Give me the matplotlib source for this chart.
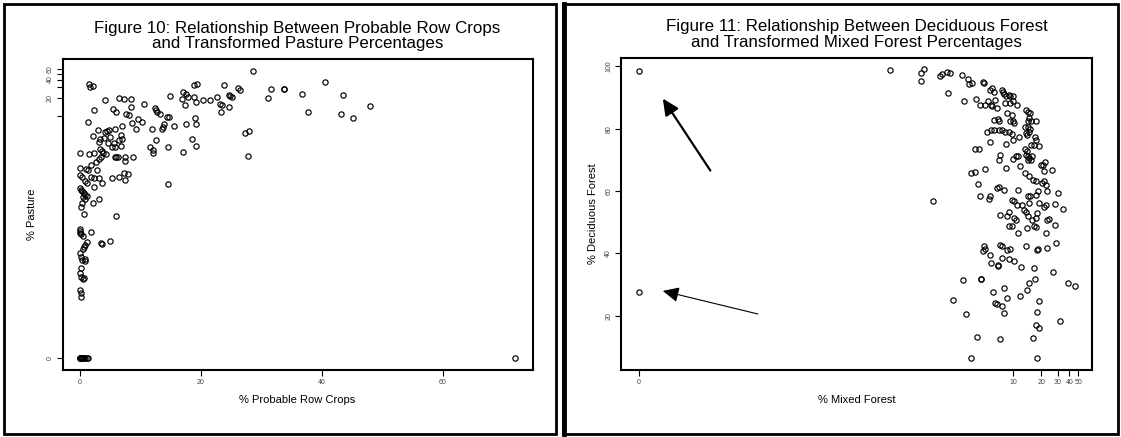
import numpy as np
import matplotlib.pyplot as plt
from matplotlib.patches import Rectangle, FancyArrowPatch
from matplotlib.lines import Line2D

plt.rcParams['font.family'] = ['Liberation Sans', 'DejaVu Sans']

# Figure 10: percent probable row crops against percent pasture
row_crops = [
    1.54, 1.71, 2.21, 18.84, 19.34, 17.02, 17.57, 16.91, 17.90, 18.95,
    17.46, 19.12, 20.34, 14.92, 6.41, 7.24, 8.45, 4.09, 8.40, 10.66,
    12.38, 12.54, 12.82, 13.26, 2.37, 5.47, 5.96, 7.68, 8.12, 9.67,
    10.28, 1.27, 8.56, 7.02, 9.28, 11.93, 13.59, 13.76, 13.98, 14.48,
    14.81, 15.58, 17.57, 19.07, 19.12, 4.47, 4.86, 5.74, 2.98, 6.74,
    2.09, 3.37, 3.92, 5.02, 3.20, 6.41, 6.96, 4.58, 5.63, 5.30,
    5.85, 6.79, 12.54, 11.66, 12.10, 12.10, 14.59, 18.46, 19.18, 17.08,
    3.37, 3.64, 3.75, 3.48, 0.05, 1.43, 2.26, 4.31, 5.74, 5.96,
    6.24, 7.51, 8.73, 7.40, 3.15, 2.65, 1.87, 0.00, 1.04, 1.27,
    2.81, 0.00, 0.33, 1.76, 2.37, 3.09, 5.36, 6.41, 7.35, 7.90,
    7.51, 0.77, 1.21, 3.64, 2.37, 14.53, 0.00, 0.11, 0.38, 0.66,
    0.88, 1.16, 0.55, 0.77, 3.09, 2.15, 0.33, 0.16, 4.10,
    0.66, 5.96, 0.00, 0.00, 0.05, 0.22, 0.44, 1.82, 4.92, 3.48,
    3.64, 1.16, 0.88, 0.71, 0.44, 0.05, 0.22, 0.77, 0.33, 0.77,
    0.16, 0.05, 0.22, 0.44, 0.66, 0.00, 0.10, 0.16,
    28.67, 40.46, 23.82, 26.18, 26.48, 31.64, 33.71, 33.83, 36.73, 43.48,
    24.70, 24.82, 25.18, 22.69, 21.45, 31.10, 23.16, 23.46, 24.64, 47.93,
    23.28, 37.74, 43.13, 45.14, 27.96, 27.31, 27.84,
    0.00, 0.00, 0.05, 0.10, 0.20, 0.30, 0.40, 0.50, 0.70, 0.90,
    1.10, 1.40, 72.0,
]
pasture = [
    33.2, 29.6, 30.7, 31.9, 33.2, 25.1, 22.7, 19.0, 20.8, 20.8,
    15.1, 17.2, 18.1, 21.6, 20.0, 18.8, 18.8, 18.1, 13.9, 15.5,
    13.7, 12.8, 11.6, 11.0, 12.4, 13.0, 11.8, 10.6, 10.2, 8.79,
    7.84, 7.94, 7.74, 6.91, 6.09, 6.09, 6.09, 6.57, 7.36, 9.48,
    9.73, 6.91, 7.27, 9.24, 7.27, 5.64, 5.86, 6.02, 5.86, 4.91,
    4.67, 4.17, 4.38, 4.44, 3.77, 4.01, 4.12, 3.63, 3.53, 3.04,
    3.08, 3.20, 3.96, 3.04, 2.74, 2.45, 3.04, 4.22, 3.20, 2.58,
    2.81, 2.68, 2.42, 2.08, 2.42, 2.39, 2.45, 2.39, 2.08, 2.13,
    2.11, 2.13, 2.13, 1.81, 1.95, 1.72, 1.53, 1.37, 1.32, 1.28,
    1.28, 1.08, 0.973, 0.985, 0.937, 0.937, 0.937, 1.00, 1.13, 1.09,
    0.879, 0.857, 0.794, 0.794, 0.682, 0.746, 0.641, 0.609, 0.572, 0.537,
    0.504, 0.485, 0.455, 0.422, 0.422, 0.363, 0.372, 0.320, 5.40,
    0.242, 0.224, 0.134, 0.126, 0.118, 0.113, 0.104, 0.120, 0.087, 0.0785,
    0.0756, 0.0837, 0.0736, 0.0673, 0.0623, 0.0533, 0.047, 0.0434, 0.0413, 0.0396,
    0.0298, 0.0245, 0.0209, 0.0195, 0.0201, 0.0125, 0.0109, 0.0095,
    55.7, 36.7, 32.4, 28.9, 27.1, 28.2, 27.4, 27.4, 23.3, 22.1,
    22.4, 21.6, 20.8, 20.8, 18.3, 19.7, 15.7, 15.0, 14.2, 14.6,
    11.6, 11.8, 10.9, 9.13, 5.57, 5.16, 2.16,
    0, 0, 0, 0, 0, 0, 0, 0, 0, 0,
    0, 0, 0,
]

# Figure 11: percent mixed forest against percent deciduous forest
mixed_forest = [
    0.00, 0.00, 0.48, 1.04, 1.04, 1.12, 1.73, 1.67, 1.98, 2.10,
    2.03, 2.84, 3.29, 3.38, 3.63, 2.99, 4.00, 4.81, 4.94, 4.41,
    4.99, 5.44, 5.84, 6.00, 5.64, 6.00, 6.33, 6.38, 6.78, 7.61,
    7.81, 7.95, 8.39, 8.99, 9.40, 10.0, 8.31, 9.40, 9.91, 8.61,
    9.74, 10.95, 6.21, 6.85, 7.03, 9.40, 10.0, 10.18, 5.26, 5.84,
    6.33, 7.03, 7.61, 8.31, 8.99, 9.66, 13.86, 14.48, 15.13, 14.74,
    14.35, 15.40, 17.42, 13.49, 14.35, 15.13, 13.61, 14.10, 14.74, 17.12,
    17.42, 11.72, 10.0, 5.64, 8.46, 13.38, 14.10, 15.40, 16.97, 19.03,
    3.93, 4.29, 7.22, 7.15, 10.0, 10.64, 11.21, 12.03, 8.46, 13.86,
    14.48, 15.00, 14.48, 15.40, 15.95, 19.71, 20.97, 21.34, 3.57, 3.89,
    5.03, 4.22, 6.72, 7.15, 7.95, 11.21, 4.48, 5.74, 5.59, 9.74,
    10.36, 14.35, 15.13, 17.42, 20.24, 21.72, 22.70, 23.10, 25.91, 30.63,
    34.65, 13.38, 14.87, 16.24, 17.73, 22.11, 18.37, 1.40, 28.04, 28.29,
    7.35, 8.61, 9.16, 10.18, 10.64, 10.95, 12.47, 13.26, 13.61, 14.74,
    14.48, 15.95, 16.67, 17.58, 18.05, 18.86, 21.72, 22.50, 23.10, 22.50,
    24.14, 11.21, 8.99, 9.74, 14.10, 17.42, 4.85, 5.07, 4.73, 5.64,
    7.35, 7.54, 8.61, 9.40, 7.61, 8.99, 10.18, 13.86, 18.05, 18.37,
    23.10, 5.84, 6.85, 6.91, 12.25, 16.67, 28.80, 26.60, 2.91, 4.60,
    4.60, 7.95, 17.12, 15.00, 14.10, 12.03, 18.86, 6.10, 8.61, 2.27,
    6.38, 6.67, 7.61, 7.95, 3.15, 18.05, 17.58, 19.03, 4.14, 7.35,
    16.24, 3.57, 18.05, 38.51, 45.54, 31.45,
]
deciduous = [
    98.5, 27.7, 98.8, 97.8, 95.4, 99.1, 97.6, 96.9, 98.1, 97.9,
    91.4, 97.1, 96.1, 94.4, 94.7, 89.0, 89.6, 95.1, 94.7, 87.5,
    87.5, 88.9, 87.6, 87.2, 92.5, 93.0, 91.8, 89.3, 86.6, 92.5,
    91.8, 91.1, 90.6, 90.9, 90.4, 90.4, 88.4, 88.4, 88.9, 85.0,
    84.5, 87.7, 82.9, 83.1, 82.4, 82.4, 82.6, 81.8, 79.1, 79.7,
    79.5, 79.5, 79.5, 78.8, 78.8, 78.4, 85.9, 85.3, 85.0, 83.4,
    82.4, 82.4, 82.4, 80.7, 80.4, 79.9, 78.6, 78.1, 79.1, 77.3,
    76.5, 77.2, 76.5, 75.6, 75.2, 73.5, 73.0, 74.8, 74.7, 74.5,
    73.5, 73.5, 71.7, 70.1, 70.3, 71.1, 71.3, 67.9, 67.4, 71.7,
    71.1, 70.6, 70.1, 70.1, 71.1, 68.4, 68.4, 66.3, 65.8, 66.1,
    67.1, 62.4, 61.0, 61.2, 60.4, 60.4, 58.5, 58.5, 57.4, 57.2,
    56.7, 58.3, 58.5, 58.8, 62.6, 63.1, 62.0, 59.9, 66.6, 59.4,
    54.3, 65.8, 64.7, 63.6, 63.3, 69.4, 59.9, 56.7, 55.8, 49.0,
    52.4, 51.9, 53.3, 51.3, 50.8, 55.4, 55.6, 54.0, 53.3, 56.1,
    51.9, 50.8, 48.7, 51.3, 52.9, 56.1, 54.9, 55.4, 50.8, 46.5,
    51.0, 46.5, 48.7, 48.9, 48.1, 48.4, 42.2, 41.4, 40.9, 39.6,
    42.8, 42.2, 41.2, 41.5, 38.5, 38.2, 37.4, 42.5, 41.2, 41.5,
    41.7, 36.9, 36.4, 35.8, 35.5, 35.3, 43.3, 34.1, 31.3, 31.9,
    31.9, 28.9, 31.6, 30.5, 28.1, 26.4, 24.6, 27.5, 25.5, 25.1,
    23.9, 23.7, 23.0, 20.9, 20.6, 21.1, 17.1, 16.1, 13.2, 12.6,
    12.7, 6.4, 6.4, 30.5, 29.6, 18.2,
]

pasture_ticks = [0, 10, 20, 30, 40, 50, 60]
pasture_labels = ['0', '', '20', '', '40', '', '60']
crops_ticks = [0, 20, 40, 60]
mixed_ticks = [0, 10, 20, 30, 40, 50]
deciduous_ticks = [20, 40, 60, 80, 100]

OFFSET = 0.001
W, H = 1121, 437


def fwd(v):
    return np.log(np.maximum(np.asarray(v, dtype=float) + OFFSET, 1e-12))


def inv(t):
    return np.exp(t) - OFFSET


def padded(lo, hi, frac=0.04):
    d = (hi - lo) * frac
    return lo - d, hi + d


def px_box(left, top, right, bottom):
    return [left / W, 1 - bottom / H, (right - left) / W, (bottom - top) / H]


def style(ax):
    for s in ax.spines.values():
        s.set_linewidth(1.5)
    ax.tick_params(direction='out', length=4.5, width=0.8, labelsize=5,
                   labelcolor='#444444', pad=2)
    ax.minorticks_off()


fig = plt.figure(figsize=(W / 100, H / 100), dpi=100)

# left chart
ax1 = fig.add_axes(px_box(62.5, 59.3, 532.6, 370))
ax1.set_yscale('function', functions=(fwd, inv))
ax1.plot(row_crops, pasture, 'o', ms=3.8, mfc='none', mec='black', mew=0.85)
ax1.set_xlim(*padded(min(row_crops), max(row_crops)))
lo, hi = padded(fwd(min(pasture)), fwd(max(pasture)))
ax1.set_ylim(inv(lo), inv(hi))
ax1.set_xticks(crops_ticks)
ax1.set_yticks(pasture_ticks)
ax1.set_yticklabels(pasture_labels, rotation=90, va='center')
style(ax1)
ax1.yaxis.set_minor_locator(plt.NullLocator())
ax1.set_title('Figure 10: Relationship Between Probable Row Crops\n'
              'and Transformed Pasture Percentages', fontsize=12.2, pad=8,
              linespacing=1.05)
ax1.set_xlabel('% Probable Row Crops', fontsize=8)
ax1.set_ylabel('% Pasture', fontsize=8)
ax1.xaxis.set_label_coords(0.5, -0.082)
ax1.yaxis.set_label_coords(-0.055, 0.5)

# right chart
ax2 = fig.add_axes(px_box(621.4, 57.7, 1092, 369.5))
ax2.set_xscale('function', functions=(fwd, inv))
ax2.plot(mixed_forest, deciduous, 'o', ms=3.8, mfc='none', mec='black', mew=0.85)
lo, hi = padded(fwd(min(mixed_forest)), fwd(max(mixed_forest)))
ax2.set_xlim(inv(lo), inv(hi))
ax2.set_ylim(*padded(min(deciduous), max(deciduous)))
ax2.set_xticks(mixed_ticks)
ax2.set_yticks(deciduous_ticks)
ax2.set_yticklabels([str(t) for t in deciduous_ticks], rotation=90, va='center')
style(ax2)
ax2.xaxis.set_minor_locator(plt.NullLocator())
ax2.set_title('Figure 11: Relationship Between Deciduous Forest\n'
              'and Transformed Mixed Forest Percentages', fontsize=12.2, pad=8,
              linespacing=1.05)
ax2.set_xlabel('% Mixed Forest', fontsize=8)
ax2.set_ylabel('% Deciduous Forest', fontsize=8)
ax2.xaxis.set_label_coords(0.5, -0.082)
ax2.yaxis.set_label_coords(-0.049, 0.5)

# arrows pointing at the two zero-mixed-forest sites
ax2.add_patch(FancyArrowPatch((0.189, 0.638), (0.088, 0.869), transform=ax2.transAxes,
                              arrowstyle='-|>,head_length=0.7,head_width=0.33',
                              mutation_scale=14, lw=1.6, color='black',
                              shrinkA=0, shrinkB=0))
ax2.add_patch(FancyArrowPatch((0.290, 0.178), (0.088, 0.252), transform=ax2.transAxes,
                              arrowstyle='-|>,head_length=0.7,head_width=0.33',
                              mutation_scale=14, lw=0.8, color='black',
                              shrinkA=0, shrinkB=0))

# frames around each figure, the right one with a heavier left edge
for left, right in [(4, 556), (563, 1118)]:
    fig.add_artist(Rectangle((left / W, 1 - 434 / H), (right - left) / W, 430 / H,
                             transform=fig.transFigure, fill=False, lw=2,
                             ec='black'))
fig.add_artist(Line2D([563.5 / W, 563.5 / W], [1 - 434 / H, 1 - 4 / H],
                      transform=fig.transFigure, lw=3.5, color='black'))

fig.savefig('out.png', dpi=100)
